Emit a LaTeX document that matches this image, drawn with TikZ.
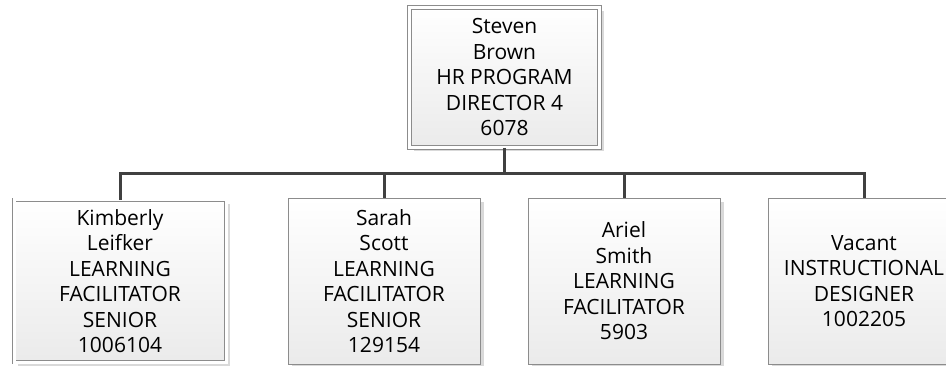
\documentclass[tikz,border=0pt]{standalone}
\usepackage{fontspec}
\setmainfont{Open Sans}
\usetikzlibrary{positioning,shadows,calc}

\begin{document}
\begin{tikzpicture}[x=1pt,y=-1pt,
  person/.style={draw=black!45,line width=0.8pt,top color=white,bottom color=black!8,
    align=center,inner sep=0pt,font=\fontsize{21}{25.5}\selectfont,
    minimum width=192pt,minimum height=166pt,
    drop shadow={shadow xshift=4pt,shadow yshift=-4pt,fill=black!15,opacity=1}},
  picked/.style={person,double=white,double distance=3pt,line width=0.8pt},
  link/.style={draw=black!75,line width=3pt}]
  \useasboundingbox (0,0) rectangle (946,366);
  \node[picked,minimum width=190pt,minimum height=140pt] (boss) at (504.5,77.5)
    {Steven\\Brown\\HR PROGRAM\\DIRECTOR 4\\6078};
  \node[picked,minimum width=212pt,minimum height=162pt] (kim) at (120,281)
    {Kimberly\\Leifker\\LEARNING\\FACILITATOR\\SENIOR\\1006104};
  \node[person] (sarah) at (384,281)
    {Sarah\\Scott\\LEARNING\\FACILITATOR\\SENIOR\\129154};
  \node[person] (ariel) at (624,281)
    {Ariel\\Smith\\LEARNING\\FACILITATOR\\5903};
  \node[person] (vacant) at (864,281)
    {Vacant\\INSTRUCTIONAL\\DESIGNER\\1002205};
  % reporting lines
  \draw[link] (boss.south) -- ++(0,26) coordinate (bus) -| (kim.north);
  \draw[link] (bus) -| (sarah.north);
  \draw[link] (bus) -| (ariel.north);
  \draw[link] (bus) -| (vacant.north);
\end{tikzpicture}
\end{document}
